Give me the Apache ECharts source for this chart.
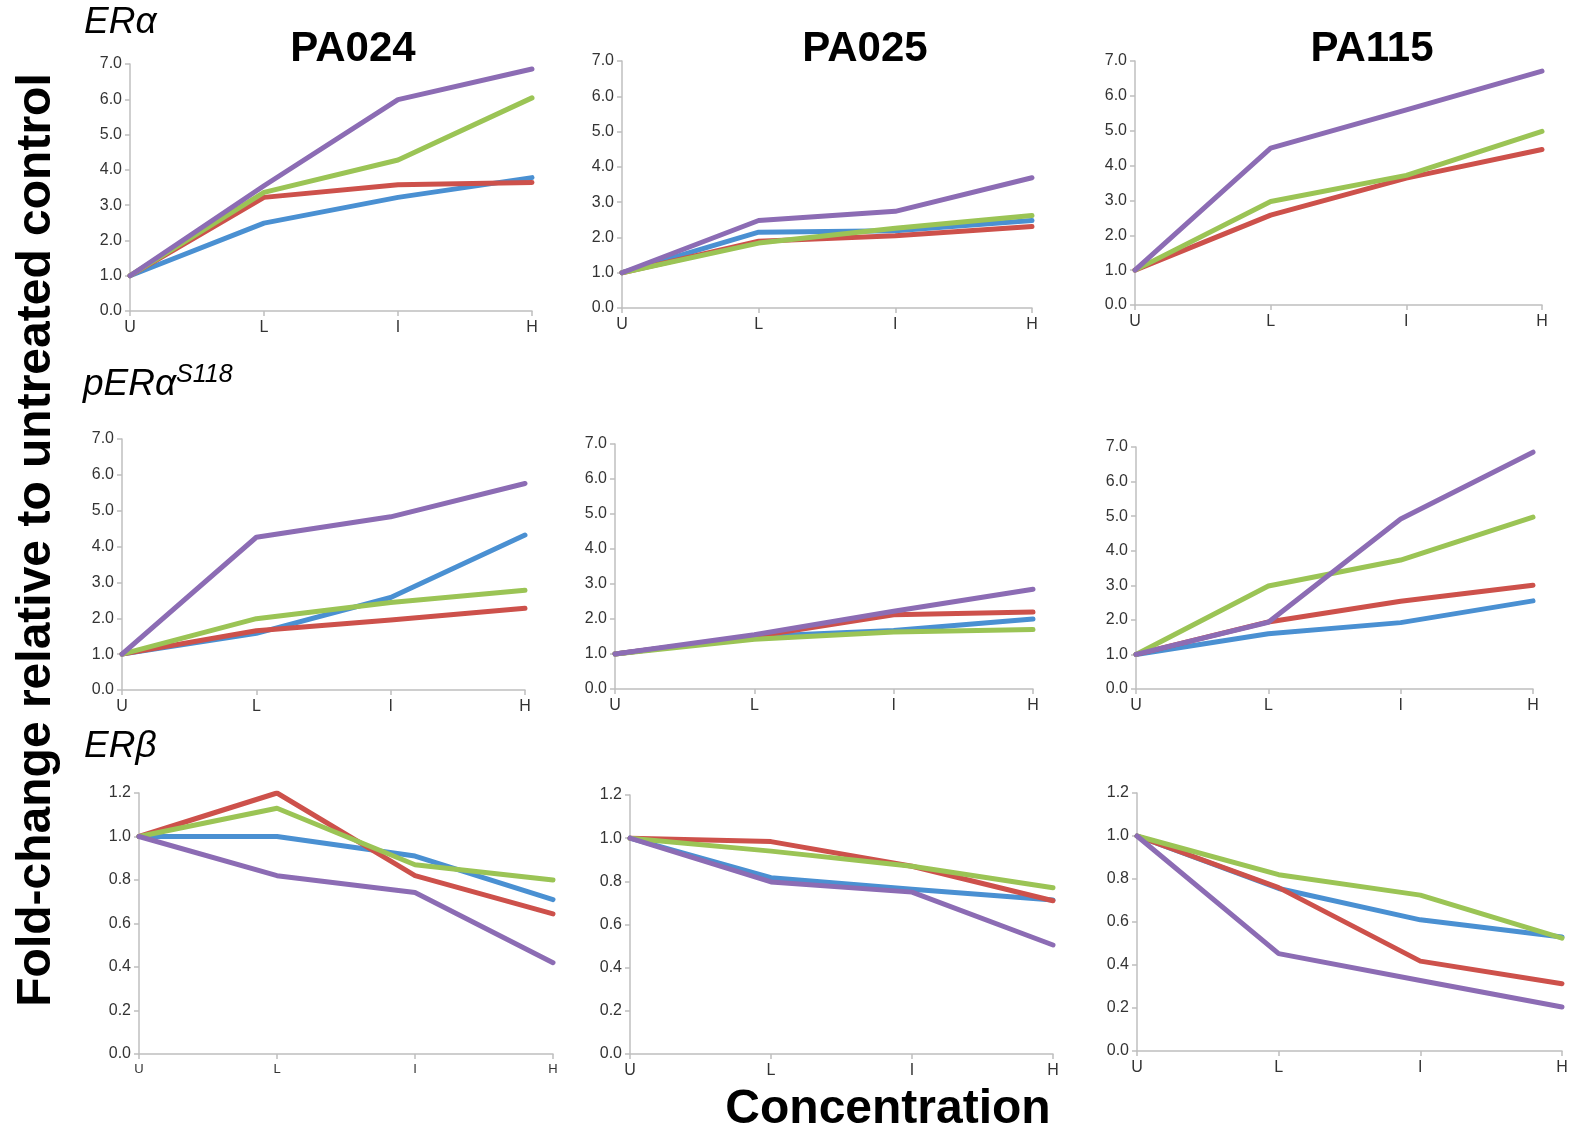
<!DOCTYPE html>
<html>
<head>
<meta charset="utf-8">
<script src="https://cdn.jsdelivr.net/npm/echarts@6/dist/echarts.min.js"></script>
<style>
  html, body { margin: 0; padding: 0; background: #fff; }
  #chart { width: 1573px; height: 1131px; }
</style>
</head>
<body>
<div id="chart"></div>
<script>
// Concentration steps shared by every panel
const categories = ['U', 'L', 'I', 'H'];

// Fold-change values, one row per line: [blue, red, green, purple]
const eraPA024 = [
  [1.0, 2.49, 3.22, 3.78],
  [1.0, 3.22, 3.58, 3.64],
  [1.0, 3.36, 4.28, 6.04],
  [1.0, 3.55, 5.99, 6.86]
];
const eraPA025 = [
  [1.0, 2.15, 2.19, 2.48],
  [1.0, 1.89, 2.05, 2.31],
  [1.0, 1.84, 2.26, 2.62],
  [1.0, 2.48, 2.74, 3.69]
];
const eraPA115 = [
  [null, null, null, null],
  [1.0, 2.58, 3.64, 4.46],
  [1.0, 2.97, 3.72, 4.98],
  [1.0, 4.50, 5.60, 6.71]
];
const perPA024 = [
  [1.0, 1.58, 2.58, 4.32],
  [1.0, 1.65, 1.95, 2.28],
  [1.0, 1.99, 2.44, 2.78],
  [1.0, 4.26, 4.83, 5.76]
];
const perPA025 = [
  [1.0, 1.50, 1.67, 2.00],
  [1.0, 1.50, 2.12, 2.20],
  [1.0, 1.42, 1.63, 1.70],
  [1.0, 1.55, 2.22, 2.85]
];
const perPA115 = [
  [1.0, 1.60, 1.92, 2.55],
  [1.0, 1.94, 2.54, 3.00],
  [1.0, 2.98, 3.73, 4.97],
  [1.0, 1.93, 4.92, 6.85]
];
const erbPA024 = [
  [1.0, 1.00, 0.91, 0.71],
  [1.0, 1.20, 0.82, 0.644],
  [1.0, 1.13, 0.87, 0.80],
  [1.0, 0.82, 0.743, 0.42]
];
const erbPA025 = [
  [1.0, 0.817, 0.763, 0.713],
  [1.0, 0.984, 0.87, 0.71],
  [1.0, 0.94, 0.87, 0.77],
  [1.0, 0.797, 0.75, 0.505]
];
const erbPA115 = [
  [1.0, 0.756, 0.61, 0.53],
  [1.0, 0.76, 0.418, 0.313],
  [1.0, 0.82, 0.725, 0.525],
  [1.0, 0.453, 0.328, 0.205]
];

const cellLines = ['PA024', 'PA025', 'PA115'];
const yTicksEr = [0, 7, 1];     // min, max, step for ERα / pERα rows
const yTicksErb = [0, 1.2, 0.2]; // min, max, step for ERβ row

const lineColors = ['#4A90D2', '#CD514B', '#9BC455', '#8C6CB4'];
const S = 1573 / 1568;
const px = v => Math.round(v * S);

// Plot boxes: [left, top, right, bottom]
const panels = [
  { data: eraPA024, box: [130, 64, 530, 310], y: yTicksEr, xFont: 16 },
  { data: eraPA025, box: [620, 61, 1029, 307], y: yTicksEr, xFont: 16 },
  { data: eraPA115, box: [1131, 61, 1537, 304], y: yTicksEr, xFont: 16 },
  { data: perPA024, box: [122, 438, 523, 688], y: yTicksEr, xFont: 16 },
  { data: perPA025, box: [613, 443, 1030, 687], y: yTicksEr, xFont: 16 },
  { data: perPA115, box: [1132, 446, 1528, 687], y: yTicksEr, xFont: 16 },
  { data: erbPA024, box: [139, 790, 551, 1051], y: yTicksErb, xFont: 13 },
  { data: erbPA025, box: [628, 792, 1050, 1051], y: yTicksErb, xFont: 16 },
  { data: erbPA115, box: [1133, 790, 1557, 1048], y: yTicksErb, xFont: 16 }
];

const FONT = '"Liberation Sans", Arial, Helvetica, sans-serif';
const axisGray = '#BFBFBF';

const grid = [], xAxis = [], yAxis = [], series = [];
panels.forEach((p, i) => {
  const [l, t, r, b] = p.box;
  grid.push({ left: px(l), top: px(t), width: px(r) - px(l), height: px(b) - px(t) });
  xAxis.push({
    type: 'category', gridIndex: i, data: categories, boundaryGap: false,
    axisLine: { lineStyle: { color: axisGray, width: 1.5 } },
    axisTick: { show: true, length: 5, alignWithLabel: true, lineStyle: { color: axisGray, width: 1.5 } },
    axisLabel: { color: '#333', fontFamily: FONT, fontSize: p.xFont, margin: 9 },
    splitLine: { show: false }
  });
  const [mn, mx, st] = p.y;
  yAxis.push({
    type: 'value', gridIndex: i, min: mn, max: mx, interval: st,
    axisLine: { show: true, lineStyle: { color: axisGray, width: 1.5 } },
    axisTick: { show: true, length: 5, lineStyle: { color: axisGray, width: 1.5 } },
    axisLabel: { color: '#333', fontFamily: FONT, fontSize: 16, margin: 8,
                 formatter: v => v.toFixed(1) },
    splitLine: { show: false }
  });
  p.data.forEach((vals, k) => {
    series.push({
      type: 'line', xAxisIndex: i, yAxisIndex: i, data: vals,
      symbol: 'none', smooth: false, animation: false,
      lineStyle: { color: lineColors[k], width: 5, cap: 'round', join: 'round' },
      z: 2 + k
    });
  });
});

const colCenters = [352, 862, 1368];
const graphic = [];
cellLines.forEach((name, i) => {
  graphic.push({
    type: 'text', x: px(colCenters[i]), y: px(49),
    style: { text: name, font: 'bold 42px ' + FONT, fill: '#000', align: 'center', verticalAlign: 'middle' }
  });
});
// Row headings
graphic.push({
  type: 'text', left: px(84), top: px(4),
  style: { text: 'ERα', font: 'italic 37px ' + FONT, fill: '#000' }
});
graphic.push({
  type: 'text', left: px(83), top: px(362),
  style: {
    text: '{m|pERα}{s|S118}',
    rich: {
      m: { font: 'italic 37px ' + FONT, fill: '#000', verticalAlign: 'bottom' },
      s: { font: 'italic 25px ' + FONT, fill: '#000', verticalAlign: 'bottom', padding: [0, 0, 15, 0] }
    }
  }
});
graphic.push({
  type: 'text', left: px(84), top: px(726),
  style: { text: 'ERβ', font: 'italic 37px ' + FONT, fill: '#000' }
});
// Shared axis titles
graphic.push({
  type: 'text', x: px(37), y: px(538), rotation: Math.PI / 2,
  style: { text: 'Fold-change relative to untreated control', font: 'bold 48px ' + FONT,
           fill: '#000', align: 'center', verticalAlign: 'middle' }
});
graphic.push({
  type: 'text', x: px(885), y: px(1106),
  style: { text: 'Concentration', font: 'bold 48px ' + FONT, fill: '#000',
           align: 'center', verticalAlign: 'middle' }
});

const chart = echarts.init(document.getElementById('chart'), null, { renderer: 'canvas' });
chart.setOption({
  animation: false,
  backgroundColor: '#fff',
  grid, xAxis, yAxis, series, graphic
});
</script>
</body>
</html>
